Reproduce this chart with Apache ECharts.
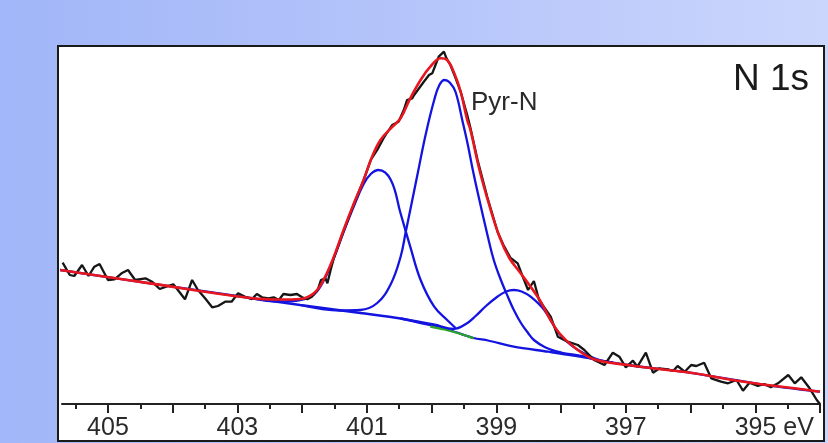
<!DOCTYPE html>
<html>
<head>
<meta charset="utf-8">
<script src="https://cdn.jsdelivr.net/npm/echarts@6/dist/echarts.min.js"></script>
<style>
  html, body { margin: 0; padding: 0; }
  #chart { width: 828px; height: 443px; background: linear-gradient(to right, #a1b6f8 0%, #b3c3fa 45%, #cbd6fc 100%); }
</style>
</head>
<body>
<div id="chart"></div>
<script>
// ---- Data (binding energy in eV, intensity in arbitrary units) ----
const xTickLabels = [395, 397, 399, 401, 403, 405];
const majorTickValues = [394, 395, 396, 397, 398, 399, 400, 401, 402, 403, 404, 405];
const minorTickValues = [394.5, 395.5, 396.5, 397.5, 398.5, 399.5, 400.5, 401.5, 402.5, 403.5, 404.5, 405.5];

const rawSpectrum = [
  [405.70,141.3],[405.59,129],[405.52,128],[405.40,139],[405.30,128],[405.21,137.3],[405.13,140],
  [405.00,124],[404.90,124.7],[404.79,130.7],[404.69,134],[404.58,124],[404.42,125.7],[404.32,122.3],
  [404.20,115],[404.10,117.3],[403.99,119.7],[403.92,114],[403.81,104.7],[403.70,124],[403.61,114],
  [403.50,105.7],[403.39,96.7],[403.30,98],[403.19,102.3],[403.09,102.3],[402.99,110.7],[402.88,107.3],
  [402.78,104.7],[402.70,110],[402.62,106.7],[402.52,105.7],[402.44,106.7],[402.36,104],[402.29,110],
  [402.18,109],[402.08,110],[402.00,106.7],[401.92,104.7],[401.85,107.3],[401.76,114],[401.71,124],
  [401.64,125.7],[401.61,120.7],[401.56,134],[401.51,146],[401.36,173],[401.20,200],[401.05,224],
  [400.94,244],[400.84,254],[400.74,266],[400.61,279],[400.51,282.3],[400.43,294],[400.38,304],
  [400.30,305.7],[400.27,309],[400.12,322.3],[400.04,329],[399.99,330.7],[399.94,339],[399.89,347.3],
  [399.81,352.3],[399.77,345.7],[399.71,339],[399.63,326],[399.55,312],[399.45,289],[399.40,276],
  [399.29,244],[399.14,207],[398.98,172],[398.89,159],[398.78,146],[398.67,140.7],[398.62,132],
  [398.51,114],[398.42,123],[398.34,104],[398.16,87.3],[398.05,67.3],[397.90,62.3],[397.74,59],
  [397.64,54],[397.49,44],[397.33,39],[397.20,51.3],[397.10,47.3],[397.00,36.7],[396.89,43.3],
  [396.82,37.3],[396.69,51.3],[396.58,31.3],[396.48,35.7],[396.35,34.7],[396.27,33],[396.20,38],
  [396.09,32.3],[395.99,39],[395.91,38],[395.79,41.3],[395.68,25.7],[395.53,22.3],[395.42,20.7],
  [395.29,24],[395.19,13.3],[395.09,21.3],[394.96,18],[394.86,20],[394.76,16.7],[394.65,20.7],
  [394.49,29],[394.39,20.7],[394.29,26.7],[394.16,15.7],[394.05,4],[394.00,0]
];

const envelopeFit = [
  [405.74,134],[404.35,120.6],[402.80,106],[402.34,104.5],[402.03,105],[401.82,110.7],[401.67,124],
  [401.51,147.3],[401.36,174],[401.20,200.7],[401.05,224],[400.92,247.3],[400.79,264],[400.63,275.7],
  [400.48,285.7],[400.33,305.7],[400.17,324],[400.02,337.3],[399.86,345.7],[399.76,344],[399.65,330.7],
  [399.55,312],[399.45,284],[399.40,274],[399.26,234],[399.11,199],[398.95,167],[398.80,146],
  [398.64,132],[398.49,119],[398.33,104],[398.18,86],[398.03,71],[397.80,57],[397.49,44.7],
  [396.97,39],[396.45,34.7],[395.94,30.7],[395.42,24.7],[394.91,19.7],[394.39,15.7],[394.00,12.3]
];

const backgroundLine = [
  [405.74,134],[404.35,120.6],[402.80,106],[402.03,99],[401.10,91],[400.48,85.5],[399.97,78],
  [399.66,72.5],[399.35,66],[399.13,63.5],[398.73,57.3],[398.20,52.3],[397.54,45.7],[397.49,44.7],
  [396.97,39],[395.94,30.7],[394.91,19.7],[394.00,12.3]
];

const backgroundGreen = [[400.02,77.5],[399.80,74.5],[399.60,71],[399.35,65.7]];

const peakA = [
  [402.80,106],[402.34,102.5],[402.03,104],[401.82,109.5],[401.67,123],[401.51,146],[401.36,172],
  [401.20,198],[401.05,220],[400.94,230],[400.82,234],[400.63,224],[400.48,190.7],[400.33,157.3],
  [400.17,124],[399.96,97.3],[399.76,84],[399.63,76]
];

const peakPyrN = [
  [402.03,99],[401.41,93.5],[401.10,94],[400.84,101],[400.63,120],[400.48,147],[400.40,172],
  [400.33,194],[400.22,229],[400.09,270],[399.96,304],[399.88,319],[399.80,324],[399.72,321.5],
  [399.63,312],[399.52,282],[399.44,259],[399.37,236],[399.29,212],[399.13,167],[399.04,144],
  [398.93,124],[398.82,107],[398.73,94],[398.62,81],[398.51,71],[398.42,64],[398.24,56.5],
  [398.00,51.5],[397.69,48],[397.49,44.7]
];

const peakC = [
  [400.48,85.5],[399.97,79.5],[399.66,75],[399.47,80],[399.32,88],[399.16,98],[398.98,107.5],
  [398.85,112.5],[398.73,114],[398.61,112.5],[398.47,107.3],[398.26,94],[398.05,72.3],[397.85,59],
  [397.69,52.3],[397.54,47.3],[397.38,43.5],[397.20,41.5]
];

const chart = echarts.init(document.getElementById('chart'), null, { renderer: 'canvas' });
const FONT = 'Liberation Sans, Arial, sans-serif';
const BLUE = '#1414e0';

const axisCommon = { type: 'value', inverse: true, min: 394, max: 405.71, splitLine: { show: false } };

chart.setOption({
  backgroundColor: 'transparent',
  animation: false,
  grid: { left: 62, right: 8, top: 46, bottom: 39, containLabel: false },
  graphic: [
    { type: 'rect', z: -10, shape: { x: 58, y: 46, width: 766, height: 395 },
      style: { fill: '#ffffff', stroke: '#1a1a1a', lineWidth: 2 } },
    { type: 'text', z: 10, style: { text: 'N 1s', x: 809, y: 80, textAlign: 'right', textVerticalAlign: 'middle',
      font: '37px ' + FONT, fill: '#1a1a1a' } },
    { type: 'text', z: 10, style: { text: 'Pyr-N', x: 471, y: 103, textAlign: 'left', textVerticalAlign: 'middle',
      font: '26px ' + FONT, fill: '#2a2a2a' } }
  ],
  xAxis: [
    Object.assign({}, axisCommon, {
      position: 'bottom',
      axisLine: { show: true, onZero: false, lineStyle: { color: '#222', width: 2 } },
      axisTick: { show: true, length: 9, customValues: majorTickValues, lineStyle: { color: '#222', width: 2 } },
      axisLabel: {
        customValues: xTickLabels, margin: 12, fontSize: 25, fontFamily: FONT, color: '#2a2a2a',
        formatter: function (v) { return v === 395 ? '{u|395 eV}' : String(v); },
        rich: { u: { padding: [0, 0, 0, 38], fontSize: 25, fontFamily: FONT, color: '#2a2a2a' } }
      }
    }),
    Object.assign({}, axisCommon, {
      position: 'bottom',
      axisLine: { show: false, onZero: false },
      axisTick: { show: true, length: 5, customValues: minorTickValues, lineStyle: { color: '#222', width: 2 } },
      axisLabel: { show: false }
    })
  ],
  yAxis: { type: 'value', min: 0, max: 358, show: false },
  series: [
    { type: 'line', data: backgroundLine, smooth: 0.3, symbol: 'none', z: 2,
      lineStyle: { color: BLUE, width: 2.3 } },
    { type: 'line', data: backgroundGreen, smooth: 0.3, symbol: 'none', z: 3,
      lineStyle: { color: '#2aa52a', width: 2.3 } },
    { type: 'line', data: peakA, smooth: 0.4, symbol: 'none', z: 4,
      lineStyle: { color: BLUE, width: 2.3 } },
    { type: 'line', data: peakPyrN, smooth: 0.4, symbol: 'none', z: 4,
      lineStyle: { color: BLUE, width: 2.3 } },
    { type: 'line', data: peakC, smooth: 0.4, symbol: 'none', z: 4,
      lineStyle: { color: BLUE, width: 2.3 } },
    { type: 'line', data: rawSpectrum, smooth: false, symbol: 'none', z: 5,
      lineStyle: { color: '#161616', width: 2.3 } },
    { type: 'line', data: envelopeFit, smooth: 0.4, symbol: 'none', z: 6,
      lineStyle: { color: '#e8161e', width: 2.6 } }
  ]
});
</script>
</body>
</html>
